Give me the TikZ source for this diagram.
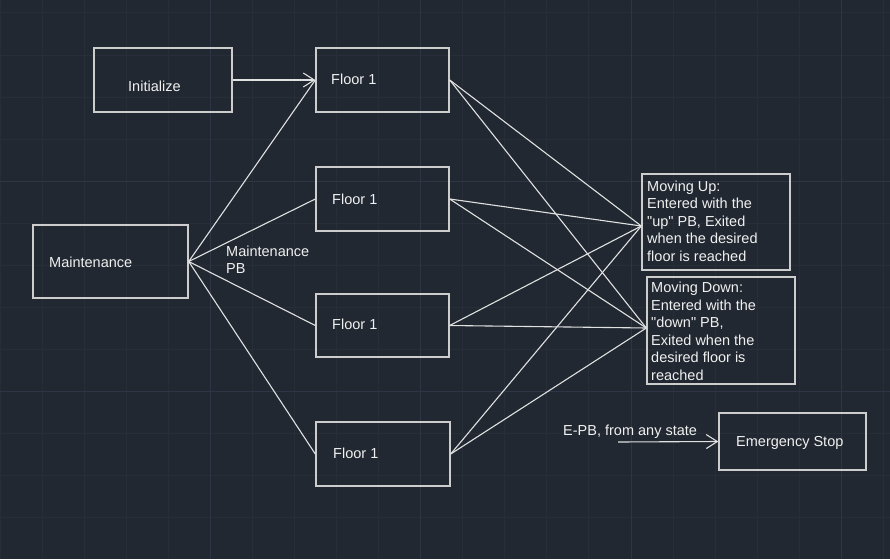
\documentclass[tikz,border=0pt]{standalone}
\usepackage{fontspec}
\setmainfont{Liberation Sans}
\usetikzlibrary{arrows.meta}
\newcommand\straightdq{\XeTeXglyph\XeTeXcharglyph"22\relax}
\definecolor{bgc}{RGB}{33,40,49}
\definecolor{minorc}{RGB}{39,46,56}
\definecolor{majorc}{RGB}{47,53,68}
\definecolor{boxc}{RGB}{205,205,205}
\definecolor{linec}{RGB}{225,225,225}
\definecolor{txtc}{RGB}{240,240,240}
\begin{document}
\begin{tikzpicture}[x=1pt,y=-1pt,
  box/.style={draw=boxc,line width=1.4pt,inner sep=0pt},
  lbl/.style={text=txtc,font=\fontsize{14.5}{17.5}\selectfont,anchor=west,inner sep=0pt,align=left},
  one/.style={text=txtc,font=\fontsize{14.5}{17.5}\selectfont,anchor=west,inner sep=0pt,text height=10.4pt,text depth=0pt},
  conn/.style={draw=linec,line width=1.1pt},
  barb/.style={-{Straight Barb[length=11pt,width=14pt,line width=1.1pt]}}]
\fill[bgc] (0,0) rectangle (890,559);
\useasboundingbox (0,0) rectangle (890,559);
% grid
\foreach \k in {0,...,21} \draw[minorc,line width=1pt] (42.07*\k,0) -- (42.07*\k,559);
\foreach \k in {0,...,12} \draw[minorc,line width=1pt] (0,13+42.08*\k) -- (890,13+42.08*\k);
\foreach \k in {5,10,15,20} \draw[majorc,line width=1pt] (42.07*\k,0) -- (42.07*\k,559);
\foreach \k in {4,9} \draw[majorc,line width=1pt] (0,13+42.08*\k) -- (890,13+42.08*\k);
% boxes
\node[box,minimum width=138pt,minimum height=64pt] (init) at (163,80) {};
\node[box,minimum width=133pt,minimum height=64pt] (f1) at (382.5,80) {};
\node[box,minimum width=133pt,minimum height=64pt] (f2) at (382.5,199) {};
\node[box,minimum width=155pt,minimum height=73pt] (maint) at (110.5,261.5) {};
\node[box,minimum width=133pt,minimum height=63pt] (f3) at (382.5,325.5) {};
\node[box,minimum width=134pt,minimum height=64pt] (f4) at (383,454) {};
\node[box,minimum width=148pt,minimum height=96pt] (mu) at (716,222) {};
\node[box,minimum width=148pt,minimum height=107pt] (md) at (721,330.5) {};
\node[box,minimum width=147pt,minimum height=57pt] (es) at (792.5,441.5) {};
% labels
\node[one] (tinit) at (128,86) {Initialize};
\node[one] (tf1) at (331,79) {Floor 1};
\node[one] (tf2) at (332,199) {Floor 1};
\node[one] (tf3) at (332,324) {Floor 1};
\node[one] (tf4) at (333,453) {Floor 1};
\node[one] (tmaint) at (49,262) {Maintenance};
\node[lbl] (tmpb) at (226,259.5) {Maintenance\\PB};
\node[lbl] (tmu) at (647,221) {Moving Up:\\Entered with the\\\straightdq up\straightdq{} PB, Exited\\when the desired\\floor is reached};
\node[lbl] (tmd) at (651,331.5) {Moving Down:\\Entered with the\\\straightdq down\straightdq{} PB,\\Exited when the\\desired floor is\\reached};
\node[one] (tes) at (736,441) {Emergency Stop};
\node[one] (tepb) at (563,430) {E-PB, from any state};
% connectors
\coordinate (muin) at ([yshift=-4pt]mu.west);
\coordinate (mdin) at ([yshift=2.5pt]md.west);
\coordinate (epbstart) at (618,442);
\draw[conn,barb] (init.east) -- (f1.west);
\draw[conn] (maint.east) -- (f1.west);
\draw[conn] (maint.east) -- (f2.west);
\draw[conn] (maint.east) -- (f3.west);
\draw[conn] (maint.east) -- (f4.west);
\foreach \f in {f1,f2,f3,f4} {
  \draw[conn] (\f.east) -- (muin);
  \draw[conn] (\f.east) -- (mdin);
}
\draw[conn,barb] (epbstart) -- (es.west);
\end{tikzpicture}
\end{document}
